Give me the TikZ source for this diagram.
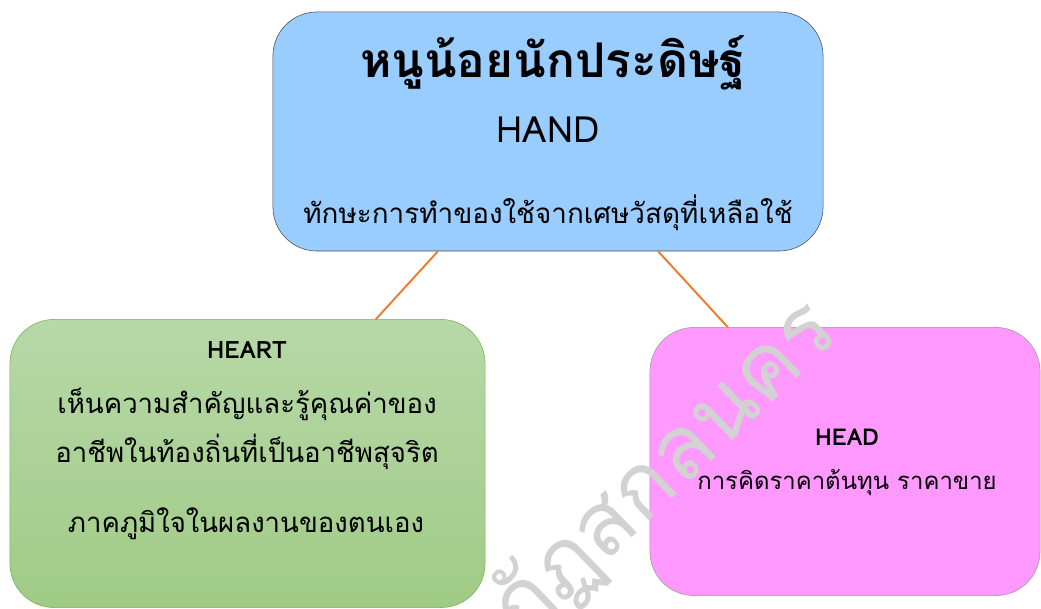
\documentclass[tikz,border=0pt]{standalone}
\usepackage{fontspec}
\newfontfamily\thaifont[Script=Thai]{Loma}
\usetikzlibrary{calc}
\definecolor{handblue}{RGB}{153,204,255}
\definecolor{heartgreenA}{RGB}{183,216,168}
\definecolor{heartgreenB}{RGB}{160,203,134}
\definecolor{heartedge}{RGB}{120,178,80}
\definecolor{headpink}{RGB}{255,153,255}
\definecolor{linkorange}{RGB}{237,125,49}
\tikzset{
  box/.style={draw, rounded corners=1.1cm, inner sep=0pt},
  txt/.style={font=\thaifont\fontsize{#1}{#1}\selectfont, inner sep=0pt, anchor=base},
  link/.style={draw=linkorange, line width=1.4pt}
}
\begin{document}
\begin{tikzpicture}[x=0.025cm,y=-0.025cm]
                \useasboundingbox (0,0) rectangle (1041,609);
                % boxes
                \node[box, draw=black!70, fill=handblue, minimum width=13.75cm, minimum height=5.975cm] (hand) at (548,131.5) {};
                \node[box, draw=heartedge, top color=heartgreenA, bottom color=heartgreenB, minimum width=11.875cm, minimum height=7.2cm] (heart) at (247.5,463.5) {};
                \node[box, draw=black!40, fill=headpink, minimum width=9.75cm, minimum height=6.7cm] (head) at (845,461.5) {};
                % lines
                \draw[link] ($(hand.south west)!0.3!(hand.south east)$) -- ($(heart.north west)!0.77!(heart.north east)$);
                \draw[link] ($(hand.south west)!0.7!(hand.south east)$) -- ($(head.north west)!0.2!(head.north east)$);
                % texts
                \node[txt=34] (title) at (553,78) {\bfseries หนูน้อยนักประดิษฐ์};
                \node[txt=25.7] (handname) at (548,143) {HAND};
                \node[txt=19.8] (handtext) at (548,224) {ทักษะการทำของใช้จากเศษวัสดุที่เหลือใช้};
                \node[txt=17] (heartname) at (247,359) {\bfseries HEART};
                \node[txt=19.6] (hearttextA) at (247,414) {เห็นความสำคัญและรู้คุณค่าของ};
                \node[txt=19.6] (hearttextB) at (247,463) {อาชีพในท้องถิ่นที่เป็นอาชีพสุจริต};
                \node[txt=19.6] (hearttextC) at (246,533) {ภาคภูมิใจในผลงานของตนเอง};
                \node[txt=16.5] (headname) at (847,446) {\bfseries HEAD};
                \node[txt=17] (headtext) at (847,490) {การคิดราคาต้นทุน ราคาขาย};
                % watermark
                \node[font=\thaifont\fontsize{63}{63}\selectfont, text=gray!35, rotate=44, anchor=base east, inner sep=0pt] (mark) at (842,335) {ราชภัฏสกลนคร};
\end{tikzpicture}
\end{document}
